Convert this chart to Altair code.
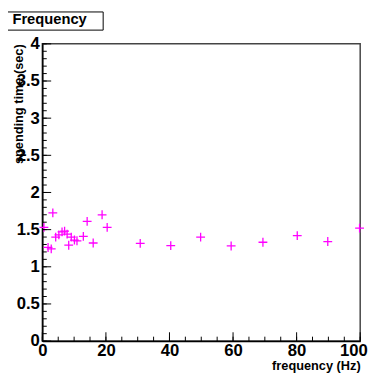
import altair as alt
import pandas as pd

# data
freq = [0.5, 1.8, 2.8, 3.3, 4.2, 5.2, 6.2, 7.0, 7.8, 8.3, 9.1, 10.1, 10.9,
        12.9, 14.1, 16.0, 18.8, 20.4, 30.8, 40.4, 49.8, 59.4, 69.4, 80.2,
        89.8, 99.8]
spend = [1.53, 1.26, 1.24, 1.725, 1.40, 1.43, 1.47, 1.48, 1.44, 1.29, 1.40,
         1.36, 1.35, 1.41, 1.61, 1.32, 1.70, 1.53, 1.315, 1.285, 1.40, 1.28,
         1.33, 1.42, 1.34, 1.52]

y_major = [0, 0.5, 1, 1.5, 2, 2.5, 3, 3.5, 4]
y_minor = [round(i * 0.1, 1) for i in range(41)]
x_major = [0, 20, 40, 60, 80, 100]
x_minor = [i * 5 for i in range(21)]

W, H = 324, 303
FONT = "Liberation Sans"

df = pd.DataFrame({"f": freq, "t": spend})

xs = alt.Scale(domain=[0, 100], nice=False, zero=False)
ys = alt.Scale(domain=[0, 4], nice=False, zero=False)

x_axis = alt.Axis(
    values=x_major, ticks=False, grid=False, domain=True,
    domainColor="black", domainWidth=1.5,
    labelFont=FONT, labelFontWeight="bold", labelFontSize=17,
    labelColor="black", labelPadding=2, labelFlush=False,
    labelOverlap=False, format="d",
    labelOffset={"condition": {"test": "datum.value == 100", "value": -7},
                 "value": 0},
    title="frequency (Hz)", titleFont=FONT, titleFontWeight="bold",
    titleFontSize=13, titleColor="black", titleAnchor="end",
    titleAlign="right", titleBaseline="middle", titleX=W, titleY=25)
y_axis = alt.Axis(
    values=y_major, ticks=False, grid=False, domain=True,
    domainColor="black", domainWidth=1.5,
    labelFont=FONT, labelFontWeight="bold", labelFontSize=17,
    labelColor="black", labelPadding=3, labelFlush=False,
    labelOverlap=False, format="~r",
    title="spending time (sec)", titleFont=FONT, titleFontWeight="bold",
    titleFontSize=13, titleColor="black", titleAngle=-90,
    titleAlign="right", titleBaseline="middle", titleX=-24, titleY=0)

points = alt.Chart(df).mark_point(
    shape="M-1,0H1M0,-1V1", filled=False, stroke="#ff00ff",
    strokeWidth=1.3, size=81, opacity=1
).encode(
    x=alt.X("f:Q", scale=xs, axis=x_axis),
    y=alt.Y("t:Q", scale=ys, axis=y_axis),
)

ymaj = alt.Chart(pd.DataFrame({"t": y_major})).mark_rule(
    color="black", strokeWidth=1).encode(
    y=alt.Y("t:Q", scale=ys, axis=y_axis), x=alt.value(0), x2=alt.value(9))
ymin = alt.Chart(pd.DataFrame({"t": y_minor})).mark_rule(
    color="black", strokeWidth=1).encode(
    y=alt.Y("t:Q", scale=ys, axis=y_axis), x=alt.value(0), x2=alt.value(4.5))
xmaj = alt.Chart(pd.DataFrame({"f": x_major})).mark_rule(
    color="black", strokeWidth=1).encode(
    x=alt.X("f:Q", scale=xs, axis=x_axis), y=alt.value(H), y2=alt.value(H - 9))
xmin = alt.Chart(pd.DataFrame({"f": x_minor})).mark_rule(
    color="black", strokeWidth=1).encode(
    x=alt.X("f:Q", scale=xs, axis=x_axis), y=alt.value(H), y2=alt.value(H - 4.5))

tdf = pd.DataFrame({"label": ["Frequency"]})
box = alt.Chart(tdf).mark_rect(
    fill="white", stroke="black", strokeWidth=1).encode(
    x=alt.value(-36), x2=alt.value(62), y=alt.value(-32.5), y2=alt.value(-14))
ttext = alt.Chart(tdf).mark_text(
    font=FONT, fontWeight="bold", fontSize=15, color="black",
    align="left", baseline="alphabetic").encode(
    text="label:N", x=alt.value(-30.5), y=alt.value(-20))

chart = alt.layer(points, xmin, xmaj, ymin, ymaj, box, ttext).properties(
    width=W, height=H,
    autosize=alt.AutoSizeParams(type="none"),
    padding={"left": 35, "top": 33, "right": 10, "bottom": 30},
    background="white",
).configure_view(stroke="#444", strokeWidth=1.5)

chart.save("out.html", embed_options={"renderer": "svg", "actions": False})
